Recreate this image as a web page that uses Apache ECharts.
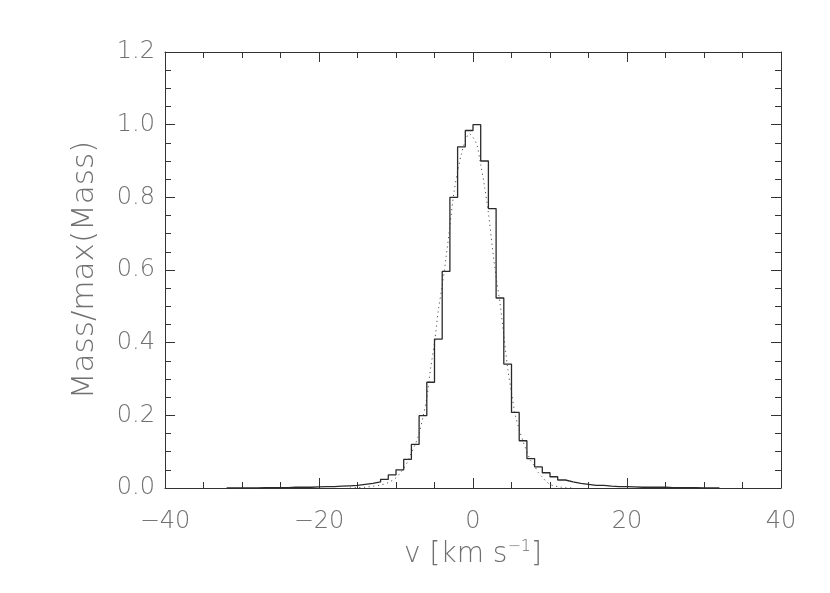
<!DOCTYPE html>
<html>
<head>
<meta charset="utf-8">
<script src="https://cdn.jsdelivr.net/npm/echarts@6/dist/echarts.min.js"></script>
<style>
html,body{margin:0;padding:0;background:#fff;}
#chart{width:830px;height:593px;}
</style>
</head>
<body>
<div id="chart"></div>
<script>
// Histogram: left edges of 1 km/s bins and normalised mass
const binLeftEdges = [-32,-31,-30,-29,-28,-27,-26,-25,-24,-23,-22,-21,-20,-19,-18,-17,-16,-15,-14,-13,-12,-11,-10,-9,-8,-7,-6,-5,-4,-3,-2,-1,0,1,2,3,4,5,6,7,8,9,10,11,12,13,14,15,16,17,18,19,20,21,22,23,24,25,26,27,28,29,30,31];
const binValues = [0,0,0,0,0.001,0.001,0.001,0.001,0.002,0.002,0.002,0.003,0.004,0.004,0.005,0.006,0.007,0.010,0.013,0.017,0.024,0.036,0.050,0.079,0.120,0.199,0.291,0.410,0.596,0.800,0.939,0.984,1.000,0.900,0.769,0.523,0.341,0.208,0.130,0.081,0.058,0.042,0.031,0.022,0.017,0.013,0.010,0.007,0.007,0.005,0.004,0.004,0.003,0.002,0.002,0.002,0.002,0.001,0.001,0.001,0.001,0,0,0];
const binWidth = 1;

// Dotted fit curve
const fitV = [-16,-15,-14,-13,-12,-11,-10,-9.5,-9,-8.5,-8,-7.5,-7,-6.5,-6,-5.5,-5,-4.5,-4,-3.5,-3,-2.5,-2,-1.5,-1,-0.5,0,0.5,1,1.5,2,2.5,3,3.5,4,4.5,5,5.5,6,6.5,7,7.5,8,8.5,9,9.5,10,10.5,11,11.5,12,13];
const fitValues = [0,0.001,0.002,0.005,0.008,0.015,0.028,0.040,0.054,0.072,0.097,0.120,0.150,0.195,0.248,0.330,0.400,0.490,0.556,0.635,0.720,0.810,0.871,0.920,0.955,0.975,0.965,0.945,0.890,0.830,0.757,0.665,0.580,0.510,0.420,0.330,0.262,0.200,0.162,0.128,0.100,0.075,0.060,0.042,0.030,0.018,0.010,0.006,0.004,0.002,0.001,0];

const xTicks = [-40,-20,0,20,40];
const yTicks = [0,0.2,0.4,0.6,0.8,1.0,1.2];

const histPts = [];
binLeftEdges.forEach((l, i) => {
  histPts.push([l, binValues[i]]);
  histPts.push([l + binWidth, binValues[i]]);
});
const fitPts = fitV.map((v, i) => [v, fitValues[i]]);

const txt = '#707070';
const axisCol = '#333';
const font = '"DejaVu Sans", sans-serif';
const fw = 200;

function xAx(pos, labels) {
  return {
    type: 'value', position: pos, min: -40, max: 40, interval: 20,
    axisLine: {show: true, onZero: false, lineStyle: {color: axisCol, width: 1}},
    axisTick: {show: true, inside: true, length: 10, lineStyle: {color: axisCol}},
    minorTick: {show: true, splitNumber: 4, length: 6, lineStyle: {color: axisCol}},
    splitLine: {show: false},
    axisLabel: {show: labels, margin: 22, color: txt, fontFamily: font, fontWeight: fw, fontSize: 24,
      formatter: v => (v < 0 ? '\u2212' + Math.abs(v) : String(v))},
    name: labels ? '{n|v [km s}{s|\u22121}{n|]}' : '',
    nameLocation: 'middle', nameGap: 50,
    nameTextStyle: {rich: {
      n: {color: txt, fontFamily: font, fontWeight: fw, fontSize: 28},
      s: {color: txt, fontFamily: font, fontWeight: fw, fontSize: 16, verticalAlign: 'top', padding: [0,0,16,0]}
    }}
  };
}
function yAx(pos, labels) {
  return {
    type: 'value', position: pos, min: 0, max: 1.2, interval: 0.2,
    axisLine: {show: true, onZero: false, lineStyle: {color: axisCol, width: 1}},
    axisTick: {show: true, inside: true, length: 10, lineStyle: {color: axisCol}},
    minorTick: {show: true, splitNumber: 4, length: 6, lineStyle: {color: axisCol}},
    splitLine: {show: false},
    axisLabel: {show: labels, margin: 10, color: txt, fontFamily: font, fontWeight: fw, fontSize: 24,
      formatter: v => v.toFixed(1)},
    name: labels ? 'Mass/max(Mass)' : '',
    nameLocation: 'middle', nameGap: 65, nameRotate: 90,
    nameTextStyle: {color: txt, fontFamily: font, fontWeight: fw, fontSize: 31}
  };
}

const chart = echarts.init(document.getElementById('chart'), null, {renderer: 'canvas'});
chart.setOption({
  animation: false,
  backgroundColor: '#fff',
  grid: {left: 165, top: 52, right: 49, bottom: 105, containLabel: false},
  xAxis: [xAx('bottom', true), xAx('top', false)],
  yAxis: [yAx('left', true), yAx('right', false)],
  series: [
    {type: 'line', data: histPts, xAxisIndex: 0, yAxisIndex: 0, showSymbol: false, symbol: 'none',
      lineStyle: {color: '#2a2a2a', width: 1.3}, z: 3},
    {type: 'line', data: fitPts, xAxisIndex: 0, yAxisIndex: 0, showSymbol: false, symbol: 'none', smooth: 0.3,
      lineStyle: {color: '#555', width: 1, type: [1.2, 3.5]}, z: 2}
  ]
});
</script>
</body>
</html>
